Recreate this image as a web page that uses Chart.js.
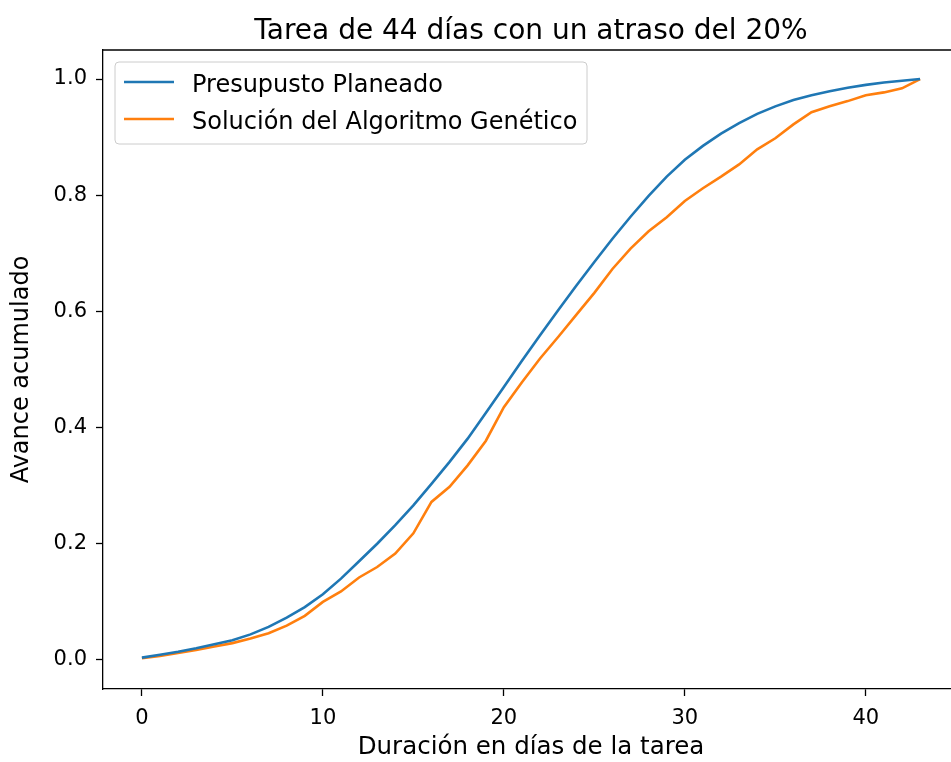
<!DOCTYPE html>
<html>
<head>
<meta charset="utf-8">
<script src="https://cdn.jsdelivr.net/npm/chart.js@4.4.1/dist/chart.umd.min.js"></script>
<style>
    body { margin: 0; background: #fff; overflow: hidden; }
    #wrap { width: 951px; height: 762px; overflow: hidden; }
</style>
</head>
<body>
<div id="wrap"><canvas id="grafico" width="962" height="762"></canvas></div>
<script>
// Datos
const titulo = 'Tarea de 44 días con un atraso del 20%';
const dias = [0, 1, 2, 3, 4, 5, 6, 7, 8, 9, 10, 11, 12, 13, 14, 15, 16, 17, 18, 19, 20, 21,
    22, 23, 24, 25, 26, 27, 28, 29, 30, 31, 32, 33, 34, 35, 36, 37, 38, 39, 40, 41, 42, 43];
const presupuesto = [0.004, 0.009, 0.014, 0.020, 0.027, 0.034, 0.044, 0.057, 0.073, 0.091,
    0.113, 0.140, 0.170, 0.200, 0.232, 0.266, 0.303, 0.341, 0.381, 0.425, 0.470, 0.515,
    0.559, 0.602, 0.644, 0.685, 0.725, 0.763, 0.799, 0.832, 0.861, 0.885, 0.906, 0.924,
    0.940, 0.953, 0.964, 0.972, 0.979, 0.985, 0.990, 0.994, 0.997, 1.000];
const genetico = [0.003, 0.007, 0.012, 0.017, 0.023, 0.029, 0.037, 0.046, 0.059, 0.076,
    0.100, 0.118, 0.142, 0.160, 0.183, 0.218, 0.272, 0.298, 0.335, 0.377, 0.435, 0.478,
    0.519, 0.556, 0.594, 0.632, 0.673, 0.708, 0.738, 0.762, 0.790, 0.812, 0.832, 0.853,
    0.879, 0.898, 0.922, 0.943, 0.953, 0.962, 0.972, 0.977, 0.984, 1.000];
const etiquetas = ['Presupusto Planeado', 'Solución del Algoritmo Genético'];
const ticksX = [0, 10, 20, 30, 40];
const ticksY = [0, 0.2, 0.4, 0.6, 0.8, 1.0];

const fuente = '"DejaVu Sans", sans-serif';

// Titulo, borde superior y leyenda dibujados a mano (como matplotlib)
const superpuesto = {
    id: 'superpuesto',
    afterDraw(chart) {
        const { ctx, chartArea } = chart;
        ctx.save();

        // borde superior del eje
        ctx.beginPath();
        ctx.moveTo(chartArea.left, chartArea.top);
        ctx.lineTo(chartArea.right, chartArea.top);
        ctx.strokeStyle = '#000';
        ctx.lineWidth = 1.3;
        ctx.stroke();

        ctx.fillStyle = '#000';
        ctx.font = '28px ' + fuente;
        ctx.textAlign = 'center';
        ctx.textBaseline = 'alphabetic';
        ctx.fillText(titulo, (chartArea.left + chartArea.right) / 2, 39);

        // caja de la leyenda
        const x = 115, y = 62, w = 472, h = 82, r = 4;
        ctx.beginPath();
        ctx.roundRect(x, y, w, h, r);
        ctx.fillStyle = 'rgba(255,255,255,0.8)';
        ctx.fill();
        ctx.strokeStyle = '#cccccc';
        ctx.lineWidth = 1;
        ctx.stroke();

        ctx.font = '24px ' + fuente;
        ctx.textAlign = 'left';
        ctx.textBaseline = 'alphabetic';
        chart.data.datasets.forEach((ds, i) => {
            const yy = 82 + i * 37;
            ctx.beginPath();
            ctx.moveTo(124, yy);
            ctx.lineTo(174, yy);
            ctx.strokeStyle = ds.borderColor;
            ctx.lineWidth = ds.borderWidth;
            ctx.stroke();
            ctx.fillStyle = '#000';
            ctx.fillText(ds.label, 192, yy + 10);
        });
        ctx.restore();
    }
};

new Chart(document.getElementById('grafico'), {
    type: 'line',
    data: {
        datasets: [
            {
                label: etiquetas[0],
                data: dias.map((d, i) => ({ x: d, y: presupuesto[i] })),
                borderColor: '#1f77b4',
                borderWidth: 2.6,
                pointRadius: 0,
                tension: 0,
                fill: false
            },
            {
                label: etiquetas[1],
                data: dias.map((d, i) => ({ x: d, y: genetico[i] })),
                borderColor: '#ff7f0e',
                borderWidth: 2.6,
                pointRadius: 0,
                tension: 0,
                fill: false
            }
        ]
    },
    options: {
        responsive: false,
        animation: false,
        layout: { padding: { top: 50, right: 3, left: 0, bottom: 0 } },
        plugins: {
            legend: { display: false },
            title: { display: false },
            tooltip: { enabled: false }
        },
        scales: {
            x: {
                type: 'linear',
                min: -2.15,
                max: 45.15,
                afterBuildTicks: (scale) => { scale.ticks = ticksX.map(v => ({ value: v })); },
                afterFit: (scale) => { scale.height = 73; },
                ticks: {
                    color: '#000',
                    font: { family: fuente, size: 21 },
                    padding: 10,
                    maxRotation: 0
                },
                grid: { drawOnChartArea: false, tickLength: 7, tickColor: '#000', tickWidth: 1.3 },
                border: { color: '#000', width: 1.3 },
                title: {
                    display: true,
                    text: 'Duración en días de la tarea',
                    color: '#000',
                    font: { family: fuente, size: 24.5 },
                    padding: { top: 0, bottom: 0 }
                }
            },
            y: {
                type: 'linear',
                min: -0.05,
                max: 1.05,
                afterBuildTicks: (scale) => { scale.ticks = ticksY.map(v => ({ value: v })); },
                afterFit: (scale) => { scale.width = 103; },
                ticks: {
                    color: '#000',
                    font: { family: fuente, size: 21 },
                    padding: 9,
                    callback: (v) => v.toFixed(1)
                },
                grid: { drawOnChartArea: false, tickLength: 7, tickColor: '#000', tickWidth: 1.3 },
                border: { color: '#000', width: 1.3 },
                title: {
                    display: true,
                    text: 'Avance acumulado',
                    color: '#000',
                    font: { family: fuente, size: 24 },
                    padding: { top: 7, bottom: 0 }
                }
            }
        }
    },
    plugins: [superpuesto]
});
</script>
</body>
</html>
